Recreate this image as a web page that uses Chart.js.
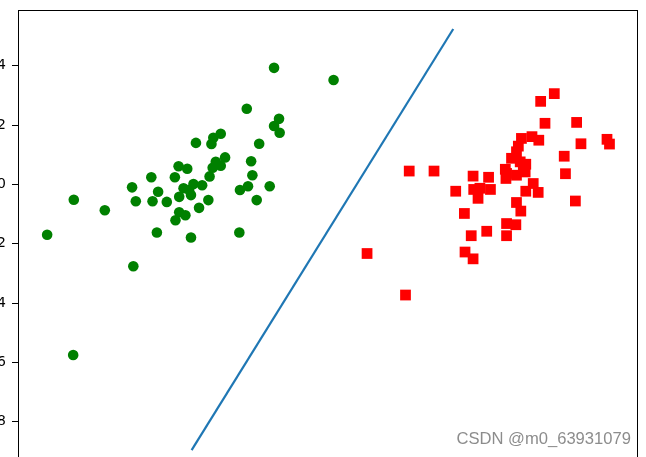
<!DOCTYPE html>
<html>
<head>
<meta charset="utf-8">
<script src="https://cdn.jsdelivr.net/npm/chart.js@4/dist/chart.umd.min.js"></script>
<style>
  html, body { margin: 0; padding: 0; background: #fff; overflow: hidden; }
  body { width: 646px; height: 457px; position: relative; }
  /* the reference is a crop of a bigger figure: the canvas hangs off the left and bottom edges */
  #wrap { position: absolute; left: -30px; top: 0; width: 676px; height: 500px; }
  #mark {
    position: absolute; right: 15px; top: 429px;
    font-family: "Liberation Sans", Arial, sans-serif; font-size: 16.6px;
    color: rgba(120, 120, 120, 0.85); white-space: nowrap;
  }
</style>
</head>
<body>
<div id="wrap"><canvas id="chart"></canvas></div>
<div id="mark">CSDN @m0_63931079</div>
<script>
// class 0 (green circles)
const greenX = [0.13, 1.09, -0.31, 0.21, 0.13, 0.22, -1.13, -0.73, -0.85, -0.88,
  -0.11, -0.66, -0.81, -0.73, -0.86, -0.24, -1.41, -1.27, -1.85, -1.47,
  -0.91, -0.22, -2.16, -1.74, -1.33, -1.17, -1.03, -1.24, -0.29, -0.42,
  0.06, -3.10, -2.10, -1.83, -1.60, -1.40, -1.21, -0.93, -0.15, -2.60,
  -1.08, -1.40, -1.30, -1.46, -3.53, -1.76, -1.21, -0.43, -2.14, -3.11];
const greenY = [3.93, 3.52, 2.55, 2.21, 1.97, 1.74, 1.40, 1.71, 1.57, 1.36,
  1.37, 0.91, 0.76, 0.63, 0.56, 0.78, 0.61, 0.53, 0.24, 0.24,
  0.27, 0.31, -0.10, -0.25, -0.13, 0.01, -0.03, -0.19, -0.06, -0.19,
  -0.06, -0.52, -0.57, -0.57, -0.59, -0.42, -0.36, -0.53, -0.53, -0.87,
  -0.79, -0.94, -1.04, -1.21, -1.70, -1.62, -1.79, -1.62, -2.76, -5.75];

// class 1 (red squares)
const redX = [4.65, 4.43, 4.50, 5.01, 4.12, 4.29, 4.40, 5.08, 5.50, 5.54,
  4.07, 4.04, 4.81, 3.96, 4.10, 4.19, 2.31, 2.71, 3.86, 4.83,
  3.34, 3.59, 3.87, 4.04, 4.18, 3.06, 3.35, 3.45, 3.62, 3.42,
  4.31, 4.19, 4.39, 4.04, 4.99, 3.20, 4.11, 3.88, 4.03, 3.56,
  3.31, 3.88, 1.63, 3.21, 3.34, 2.25, 3.88, 4.15];
const redY = [3.06, 2.80, 2.06, 2.09, 1.55, 1.61, 1.49, 1.37, 1.52, 1.36,
  1.29, 1.10, 0.95, 0.88, 0.76, 0.68, 0.45, 0.45, 0.51, 0.36,
  0.28, 0.24, 0.20, 0.31, 0.42, -0.23, -0.17, -0.13, -0.17, -0.47,
  0.03, -0.23, -0.27, -0.61, -0.56, -0.98, -0.90, -1.32, -1.36, -1.58,
  -1.73, -1.73, -2.33, -2.28, -2.51, -3.73, 0.37, 0.48];

// separating line, two end points
const lineX = [-1.20, 3.02];
const lineY = [-8.96, 5.24];

// y tick values
const yTicks = [4, 2, 0, -2, -4, -6, -8, -10];

const toPoints = (xs, ys) => xs.map((x, i) => ({ x: x, y: ys[i] }));

// box round the plot area, like matplotlib's spines
const frame = {
  id: 'frame',
  afterDraw(chart) {
    const { ctx, chartArea: a } = chart;
    ctx.save();
    ctx.strokeStyle = '#000';
    ctx.lineWidth = 1;
    ctx.strokeRect(a.left + 0.5, a.top + 0.5, a.right - a.left - 1, a.bottom - a.top);
    ctx.restore();
  }
};

new Chart(document.getElementById('chart'), {
  type: 'scatter',
  data: {
    datasets: [
      {
        data: toPoints(greenX, greenY),
        pointStyle: 'circle',
        pointRadius: 5.3,
        pointHoverRadius: 5.3,
        backgroundColor: '#008000',
        borderColor: '#008000',
        borderWidth: 0
      },
      {
        data: toPoints(redX, redY),
        pointStyle: 'rect',
        pointRadius: 7.6,
        pointHoverRadius: 7.6,
        backgroundColor: '#ff0000',
        borderColor: '#ff0000',
        borderWidth: 0
      },
      {
        data: toPoints(lineX, lineY),
        showLine: true,
        borderColor: '#1f77b4',
        borderWidth: 2.2,
        pointRadius: 0,
        pointHoverRadius: 0
      }
    ]
  },
  options: {
    responsive: true,
    maintainAspectRatio: false,
    animation: false,
    events: [],
    layout: { padding: { left: 8, right: 8, top: 10, bottom: 19 } },
    plugins: {
      legend: { display: false },
      tooltip: { enabled: false }
    },
    scales: {
      x: {
        display: false,
        min: -4,
        max: 6
      },
      y: {
        min: -10,
        max: 5.88,
        afterFit(scale) {
          scale.width = 40;
          scale.paddingTop = 0;
          scale.paddingBottom = 0;
        },
        afterBuildTicks(scale) { scale.ticks = yTicks.map(v => ({ value: v })); },
        grid: {
          display: true,
          drawOnChartArea: false,
          drawTicks: true,
          tickLength: 6,
          color: '#000'
        },
        border: { display: false },
        ticks: {
          padding: 6,
          color: '#000',
          font: { family: "'DejaVu Sans', sans-serif", size: 14 },
          callback: v => (v < 0 ? '\u2212' + Math.abs(v) : String(v))
        }
      }
    }
  },
  plugins: [frame]
});
</script>
</body>
</html>
